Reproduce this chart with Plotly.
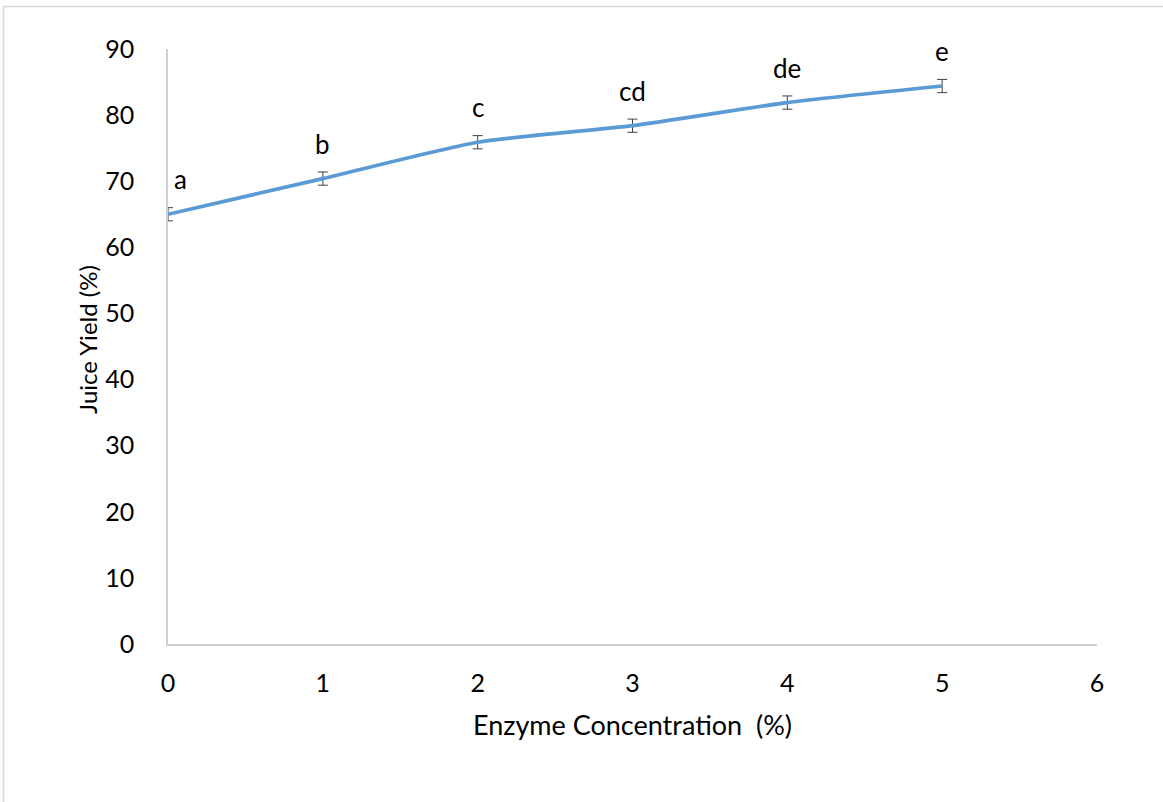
import plotly.graph_objects as go

enzyme = [0, 1, 2, 3, 4, 5]
juice_yield = [65.0, 70.4, 75.9, 78.4, 81.9, 84.4]
errors = [1.0, 1.0, 1.0, 1.0, 1.0, 1.0]
letters = ["a", "b", "c", "cd", "de", "e"]
x_ticks = [0, 1, 2, 3, 4, 5, 6]
y_ticks = [0, 10, 20, 30, 40, 50, 60, 70, 80, 90]

FONT = "Lato"
W, H = 1163, 802
L, R, T, B = 167.5, 1163 - 1096.7, 48.5, 802 - 643.7

fig = go.Figure()
fig.add_trace(go.Scatter(
    x=enzyme, y=juice_yield, mode="lines",
    line=dict(color="#5B9BD5", width=3.7, shape="spline", smoothing=0.6),
    error_y=dict(type="data", array=errors, visible=True, color="#404040",
                 thickness=1, width=5),
    showlegend=False, hoverinfo="x+y",
))

for i, (xv, yv, lab) in enumerate(zip(enzyme, juice_yield, letters)):
    fig.add_annotation(
        x=xv, y=yv, text=lab, showarrow=False,
        xshift=12 if i == 0 else 0, yshift=35,
        font=dict(family=FONT, size=26, color="#000000"),
    )

pw = W - L - R
ph = H - T - B
# y-axis title placed as rotated text
fig.add_annotation(
    xref="paper", yref="paper", x=(87 - L) / pw, y=(H - B - 339) / ph,
    text="Juice Yield (%)", textangle=-90, showarrow=False,
    xanchor="center", yanchor="middle",
    font=dict(family=FONT, size=24, color="#000000"),
)
# outer chart border
fig.add_shape(type="rect", xref="paper", yref="paper",
              x0=(3 - L) / pw, x1=(W + 5 - L) / pw,
              y0=-(H + 5 - T - ph) / ph, y1=1 + (T - 6) / ph,
              line=dict(color="#d9d9d9", width=1.5), layer="below")

fig.update_layout(
    width=W, height=H,
    margin=dict(l=L, r=R, t=T, b=B),
    paper_bgcolor="white", plot_bgcolor="white",
    font=dict(family=FONT, size=25, color="#000000"),
    xaxis=dict(range=[0, 6], tickvals=x_ticks, showgrid=False, zeroline=False,
               showline=True, linecolor="#d0d0d0", linewidth=1.5,
               ticks="", ticklabelstandoff=16,
               tickfont=dict(family=FONT, size=25),
               title=dict(text="Enzyme Concentration  (%)", standoff=20,
                          font=dict(family=FONT, size=27))),
    yaxis=dict(range=[0, 90], tickvals=y_ticks, showgrid=False, zeroline=False,
               showline=True, linecolor="#d0d0d0", linewidth=1.5,
               ticks="", ticklabelstandoff=27,
               tickfont=dict(family=FONT, size=25)),
)

fig.write_html("out.html")
